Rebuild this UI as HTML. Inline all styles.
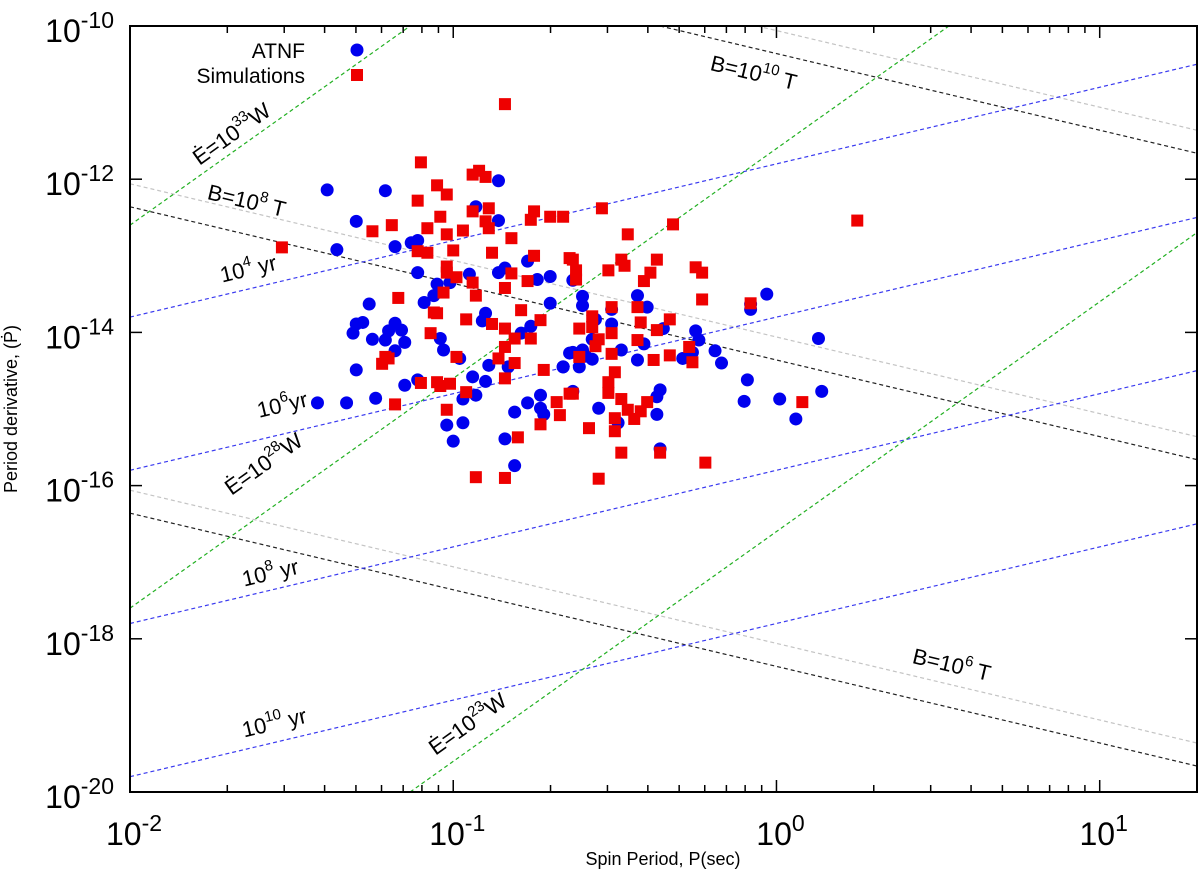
<!DOCTYPE html>
<html><head><meta charset="utf-8"><style>
html,body{margin:0;padding:0;background:#fff;width:1200px;height:884px;overflow:hidden;position:relative}
svg{display:block;position:absolute;left:0;top:0;font-family:"Liberation Sans",sans-serif}
</style></head><body>
<svg id="chart" width="1200" height="884" viewBox="0 0 1200 884" xmlns="http://www.w3.org/2000/svg">
<rect x="0" y="0" width="1200" height="884" fill="#fff"/>
<g id="lines"></g>
<g id="points"></g>
<rect x="130" y="26" width="1067" height="766" fill="none" stroke="#000" stroke-width="2"/>
<g id="ticks"></g>
<g id="labels"></g>
<text x="663" y="865" font-size="18" text-anchor="middle">Spin Period, P(sec)</text>
<text transform="translate(17,409) rotate(-90)" font-size="18" text-anchor="middle">Period derivative, (Ṗ)</text>
<g font-size="21">
<text x="305" y="58" text-anchor="end">ATNF</text>
<circle cx="357" cy="50" r="6.5" fill="#0000ee"/>
<text x="305" y="83" text-anchor="end">Simulations</text>
<rect x="351" y="69" width="12" height="12" fill="#ee0000"/>
</g>
<g font-size="22">
<text transform="translate(236,140) rotate(-35.4)" text-anchor="middle">Ė=10<tspan font-size="15" dy="-10">33</tspan><tspan dy="10">W</tspan></text>
<text transform="translate(245,208) rotate(13.3)" text-anchor="middle">B=10<tspan font-size="15" dy="-10">8</tspan><tspan dy="10"> T</tspan></text>
<text transform="translate(250,276) rotate(-13.3)" text-anchor="middle">10<tspan font-size="15" dy="-10">4</tspan><tspan dy="10"> yr</tspan></text>
<text transform="translate(284,412) rotate(-13.3)" text-anchor="middle">10<tspan font-size="15" dy="-10">6</tspan><tspan dy="10">yr</tspan></text>
<text transform="translate(268,470) rotate(-35.4)" text-anchor="middle">Ė=10<tspan font-size="15" dy="-10">28</tspan><tspan dy="10">W</tspan></text>
<text transform="translate(272,580) rotate(-13.3)" text-anchor="middle">10<tspan font-size="15" dy="-10">8</tspan><tspan dy="10"> yr</tspan></text>
<text transform="translate(276,730) rotate(-13.3)" text-anchor="middle">10<tspan font-size="15" dy="-10">10</tspan><tspan dy="10"> yr</tspan></text>
<text transform="translate(472,730) rotate(-35.4)" text-anchor="middle">Ė=10<tspan font-size="15" dy="-10">23</tspan><tspan dy="10">W</tspan></text>
<text transform="translate(752,80) rotate(13.3)" text-anchor="middle">B=10<tspan font-size="15" dy="-10">10</tspan><tspan dy="10"> T</tspan></text>
<text transform="translate(950,672) rotate(13.3)" text-anchor="middle">B=10<tspan font-size="15" dy="-10">6</tspan><tspan dy="10"> T</tspan></text>
</g>
</svg>
<script>
// ATNF pulsars (log10 P [s], log10 Pdot)
const atnfLogP = [-1.21,-0.86,-0.93,-0.86,-1.30,-1.36,-1.18,-1.13,-1.11,-1.11,-1.05,-1.01,-0.95,-0.86,-0.84,-0.77,-0.74,-0.70,-1.39,-1.26,-1.09,-1.06,-1.30,-1.28,-1.31,-1.25,-1.21,-1.20,-1.18,-1.16,-1.15,-1.18,-1.30,-1.04,-1.03,-0.98,-0.90,-0.91,-0.79,-0.76,-0.70,-0.89,-0.94,-0.90,-0.83,-1.15,-1.11,-1.42,-1.33,-1.24,-0.97,-0.93,-1.02,-0.97,-1.00,-0.81,-0.77,-0.73,-0.73,-0.72,-0.84,-0.81,-0.66,-0.64,-0.63,-0.60,-0.60,-0.51,-0.43,-0.40,-0.56,-0.51,-0.57,-0.63,-0.60,-0.59,-0.57,-0.66,-0.61,-0.48,-0.43,-0.41,-0.35,-0.25,-0.24,-0.26,-0.29,-0.19,-0.17,-0.08,-0.08,-0.03,0.13,-0.09,-0.10,0.01,0.06,0.14,-0.63,-0.55,-0.36,-0.37,-0.37,-0.49,-0.36];
const atnfLogPdot = [-12.15,-12.02,-12.36,-12.54,-12.55,-12.92,-12.88,-12.83,-12.80,-13.22,-13.37,-13.35,-13.24,-13.22,-13.16,-13.07,-13.31,-13.27,-12.14,-13.63,-13.61,-13.52,-13.89,-13.87,-14.01,-14.09,-14.10,-13.98,-13.88,-13.97,-14.13,-14.24,-14.49,-14.08,-14.23,-14.34,-13.75,-13.85,-14.01,-13.92,-13.62,-14.43,-14.58,-14.64,-14.45,-14.69,-14.62,-14.92,-14.92,-14.86,-14.87,-14.82,-15.21,-15.18,-15.42,-15.04,-14.92,-14.82,-14.99,-15.07,-15.39,-15.74,-14.45,-14.27,-13.32,-13.53,-13.65,-13.70,-13.52,-13.67,-13.83,-13.89,-14.09,-14.26,-14.23,-14.31,-14.35,-14.45,-14.45,-14.23,-14.36,-14.15,-13.95,-13.98,-14.10,-14.26,-14.34,-14.24,-14.40,-13.63,-13.70,-13.50,-14.08,-14.62,-14.90,-14.87,-15.13,-14.77,-14.77,-14.99,-14.75,-14.84,-15.07,-15.18,-15.52];
// Simulated pulsars
const simLogP = [-0.84,-1.10,-0.94,-0.92,-0.90,-1.05,-1.02,-1.11,-0.94,-0.89,-1.04,-1.19,-1.25,-1.08,-0.97,-1.02,-0.90,-0.89,-0.75,-0.76,-0.70,-0.66,-0.82,-1.00,-0.88,-1.11,-1.08,-0.75,-0.64,-1.02,-1.02,-0.99,-0.82,-0.77,-0.94,-0.84,-1.53,-1.17,-1.03,-0.93,-1.06,-1.05,-0.96,-0.88,-0.84,-0.79,-0.73,-0.81,-0.76,-1.07,-1.21,-1.20,-1.22,-0.99,-0.84,-0.86,-0.81,-0.84,-0.72,-1.10,-1.05,-1.04,-1.01,-0.96,-1.18,-1.02,-0.68,-0.67,-0.73,-0.64,-0.80,-0.84,-0.93,-0.54,-0.32,-0.46,0.25,-0.63,-0.62,-0.62,-0.48,-0.47,-0.52,-0.37,-0.39,-0.41,-0.25,-0.23,-0.23,-0.08,-0.51,-0.43,-0.57,-0.57,-0.61,-0.42,-0.33,-0.37,-0.51,-0.55,-0.56,-0.43,-0.27,-0.61,-0.51,-0.33,-0.38,-0.26,-0.50,-0.52,-0.52,-0.63,-0.48,-0.40,-0.46,-0.42,-0.44,-0.50,-0.58,-0.50,-0.48,-0.36,-0.22,-0.55,0.08];
const simLogPdot = [-11.02,-11.78,-11.94,-11.89,-11.97,-12.08,-12.20,-12.28,-12.42,-12.38,-12.49,-12.60,-12.68,-12.64,-12.67,-12.72,-12.55,-12.64,-12.42,-12.53,-12.49,-12.49,-12.77,-12.93,-12.96,-12.94,-12.96,-13.00,-13.03,-13.14,-13.22,-13.28,-13.23,-13.33,-13.35,-13.42,-12.89,-13.55,-13.48,-13.52,-13.74,-13.75,-13.83,-13.89,-13.95,-13.71,-13.84,-14.08,-14.08,-14.01,-14.32,-14.34,-14.41,-14.32,-14.19,-14.34,-14.40,-14.60,-14.49,-14.66,-14.65,-14.70,-14.67,-14.78,-14.94,-15.01,-14.91,-15.08,-15.20,-14.80,-15.37,-15.90,-15.89,-12.38,-12.59,-12.72,-12.54,-13.05,-13.19,-13.31,-13.05,-13.13,-13.19,-13.05,-13.22,-13.33,-13.15,-13.22,-13.57,-13.62,-13.67,-13.67,-13.79,-13.93,-13.95,-13.87,-13.83,-13.97,-14.01,-14.09,-14.18,-14.10,-14.19,-14.32,-14.28,-14.30,-14.36,-14.39,-14.52,-14.65,-14.79,-14.80,-14.87,-14.91,-15.01,-15.03,-15.13,-15.12,-15.25,-15.29,-15.57,-15.57,-15.70,-15.91,-14.91];
// Reference lines
const ageLogYears = [4,6,8,10];
const edotLogW = [33,28,23];
const bLogT = [6,8,10];
const bBlackIntercept8 = -14.36;
const bGrayOffset = 0.3;
const edotConst = 39.6;
const xTickExps = [-2,-1,0,1];
const yTickExps = [-10,-12,-14,-16,-18,-20];

const X0=130, X1=1197, Y0=26, Y1=792;
const xMin=-2, xMax=Math.log10(20), yMin=-20, yMax=-10;
const sx = v => X0 + (v-xMin)/(xMax-xMin)*(X1-X0);
const sy = v => Y1 - (v-yMin)/(yMax-yMin)*(Y1-Y0);
const NS='http://www.w3.org/2000/svg';
function mk(tag, attrs, parent){const e=document.createElementNS(NS,tag);for(const k in attrs)e.setAttribute(k,attrs[k]);parent.appendChild(e);return e;}

const lines=document.getElementById('lines');
function drawLine(a,k,color,name){
  // clip analytically to plot box: y = a + k x
  let lo=xMin, hi=xMax;
  const xa=(yMin-a)/k, xb=(yMax-a)/k;
  lo=Math.max(lo,Math.min(xa,xb)); hi=Math.min(hi,Math.max(xa,xb));
  if(hi<=lo) return;
  const l=mk('line',{x1:sx(lo),y1:sy(a+k*lo),x2:sx(hi),y2:sy(a+k*hi),stroke:color,'stroke-width':1.2,'stroke-dasharray':'4 3'},lines);
  
  
}
bLogT.forEach(b=>{
  const c = bBlackIntercept8 + 2*(b-8);
  drawLine(c+bGrayOffset,-1,'#c4c4c4','b-line-gray-'+b);
  drawLine(c,-1,'#222','b-line-'+b);
});
ageLogYears.forEach(t=>{
  const a = -Math.log10(2) - (t+Math.log10(3.156e7));
  drawLine(a,1,'#3a3af0','age-line-'+t);
});
edotLogW.forEach(e=>{
  drawLine(e-edotConst,3,'#22b022','edot-line-'+e);
});

const pts=document.getElementById('points');
atnfLogP.forEach((p,i)=>{
  const c=mk('circle',{cx:sx(p),cy:sy(atnfLogPdot[i]),r:6.5,fill:'#0000ee'},pts);
  
  
});
simLogP.forEach((p,i)=>{
  const r=mk('rect',{x:sx(p)-6,y:sy(simLogPdot[i])-6,width:12,height:12,fill:'#ee0000'},pts);
  
  
});

const ticks=document.getElementById('ticks');
for(let d=-2; d<=1; d++){
  for(let m=1;m<=9;m++){
    const v=d+Math.log10(m); if(v>xMax) break;
    const len = m===1?12:7;
    const x=sx(v);
    if(x<=X0+0.5) continue;
    mk('line',{x1:x,y1:Y1,x2:x,y2:Y1-len,stroke:'#000','stroke-width':1.5},ticks);
    mk('line',{x1:x,y1:Y0,x2:x,y2:Y0+len,stroke:'#000','stroke-width':1.5},ticks);
  }
}
yTickExps.forEach(e=>{
  const y=sy(e);
  mk('line',{x1:X0,y1:y,x2:X0+12,y2:y,stroke:'#000','stroke-width':1.5},ticks);
  mk('line',{x1:X1,y1:y,x2:X1-12,y2:y,stroke:'#000','stroke-width':1.5},ticks);
});

const labels=document.getElementById('labels');
function powLabel(x,y,anchor,exp,name){
  const t=mk('text',{x:x,y:y,'text-anchor':anchor,'font-size':32},labels);
  
  
  const a=document.createElementNS(NS,'tspan');a.textContent='10';t.appendChild(a);
  const b=document.createElementNS(NS,'tspan');b.setAttribute('font-size','23');b.setAttribute('dy','-14');b.textContent=String(exp);t.appendChild(b);
}
yTickExps.forEach(e=>powLabel(114, sy(e)+16, 'end', e, 'y-tick-label'));
xTickExps.forEach(e=>powLabel(sx(e)+4, 845, 'middle', e, 'x-tick-label'));
</script>
</body></html>
